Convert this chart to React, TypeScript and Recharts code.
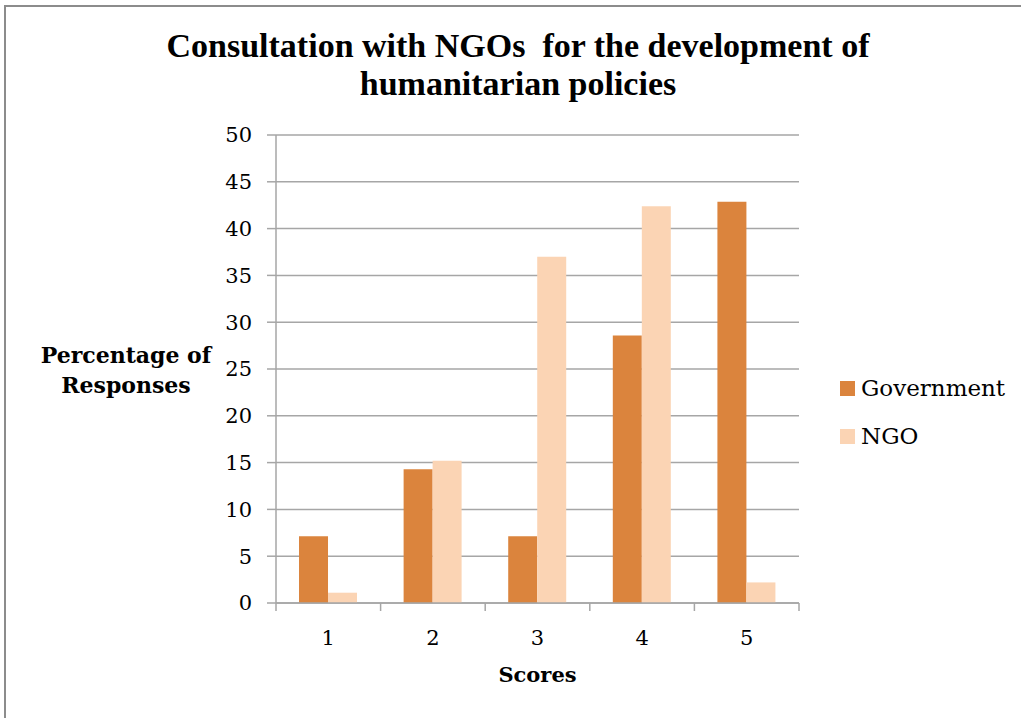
import React from 'react';
import { BarChart, Bar, XAxis, YAxis, CartesianGrid } from 'recharts';

const categories = ['1', '2', '3', '4', '5'];
const government = [7.14, 14.29, 7.14, 28.57, 42.86];
const ngo = [1.1, 15.2, 37.0, 42.4, 2.2];
const yTicks = [0, 5, 10, 15, 20, 25, 30, 35, 40, 45, 50];

const series = [
    { key: 'government', name: 'Government', color: '#DB843D' },
    { key: 'ngo', name: 'NGO', color: '#FBD4B4' },
];

const chartData = categories.map((score, i) => ({
    score,
    government: government[i],
    ngo: ngo[i],
}));

const serif = '"DejaVu Serif", serif';
const gridColor = '#A6A6A6';

const YLabel = () => (
    <text x={126} textAnchor="middle" fontFamily={serif} fontWeight="bold" fontSize={22} fill="#000">
        <tspan x={126} y={363}>Percentage of</tspan>
        <tspan x={126} y={393}>Responses</tspan>
    </text>
);

// Excel puts the tick marks between categories, so draw them at the band edges
const ScoreTick = (props: any) => {
    const { x, y, payload, index } = props;
    const half = payload.offset || 523 / categories.length / 2;
    const last = index === categories.length - 1;
    return (
        <g>
            <line x1={x - half} x2={x - half} y1={y} y2={y + 8} stroke={gridColor} strokeWidth={1.5} />
            {last && <line x1={x + half} x2={x + half} y1={y} y2={y + 8} stroke={gridColor} strokeWidth={1.5} />}
            <text x={x} y={y + 42} textAnchor="middle" fontFamily={serif} fontSize={21} fill="#000">
                {payload.value}
            </text>
        </g>
    );
};

const App = () => {
    return (
        <div style={{ position: 'absolute', left: 0, top: 0, width: 1021, height: 718, background: '#fff' }}>
            <div style={{ position: 'absolute', left: 4, top: 5, width: 1017, height: 2, background: '#8C8C8C' }} />
            <div style={{ position: 'absolute', left: 4, top: 5, width: 2, height: 713, background: '#8C8C8C' }} />
            <div
                style={{
                    position: 'absolute',
                    left: 0,
                    top: 27,
                    width: 1036,
                    textAlign: 'center',
                    fontFamily: '"Liberation Serif", serif',
                    fontWeight: 'bold',
                    fontSize: 34,
                    lineHeight: '38px',
                    color: '#000',
                    whiteSpace: 'pre',
                }}
            >
                {'Consultation with NGOs  for the development of\nhumanitarian policies'}
            </div>
            <div style={{ position: 'absolute', left: 0, top: 0 }}>
                <BarChart
                    width={1021}
                    height={718}
                    data={chartData}
                    margin={{ top: 135, right: 222, bottom: 36, left: 0 }}
                    barCategoryGap="22%"
                    barGap={0}
                >
                    <CartesianGrid vertical={false} stroke={gridColor} strokeWidth={1.5} />
                    <XAxis
                        dataKey="score"
                        height={79}
                        interval={0}
                        tickSize={0}
                        tickMargin={0}
                        tickLine={false}
                        tick={<ScoreTick />}
                        axisLine={{ stroke: gridColor, strokeWidth: 1.5 }}
                        label={{
                            value: 'Scores',
                            position: 'insideBottom',
                            offset: 0,
                            style: { fontFamily: serif, fontWeight: 'bold', fontSize: 21, fill: '#000' },
                        }}
                    />
                    <YAxis
                        width={276}
                        domain={[0, 50]}
                        ticks={yTicks}
                        interval={0}
                        tickSize={9}
                        tickMargin={15}
                        tick={{ fontFamily: serif, fontSize: 21, fill: '#000' }}
                        tickLine={{ stroke: gridColor, strokeWidth: 1.5 }}
                        axisLine={{ stroke: gridColor, strokeWidth: 1.5 }}
                        label={{ content: () => <YLabel /> }}
                    />
                    {series.map((s) => (
                        <Bar key={s.key} dataKey={s.key} name={s.name} fill={s.color} isAnimationActive={false} />
                    ))}
                </BarChart>
            </div>
            {series.map((s, i) => (
                <div
                    key={s.key}
                    style={{
                        position: 'absolute',
                        left: 840,
                        top: 375 + i * 48,
                        display: 'flex',
                        alignItems: 'center',
                        fontFamily: serif,
                        fontSize: 23,
                        color: '#000',
                    }}
                >
                    <span style={{ display: 'inline-block', width: 15, height: 15, background: s.color, marginRight: 6 }} />
                    {s.name}
                </div>
            ))}
        </div>
    );
};

export default App;
